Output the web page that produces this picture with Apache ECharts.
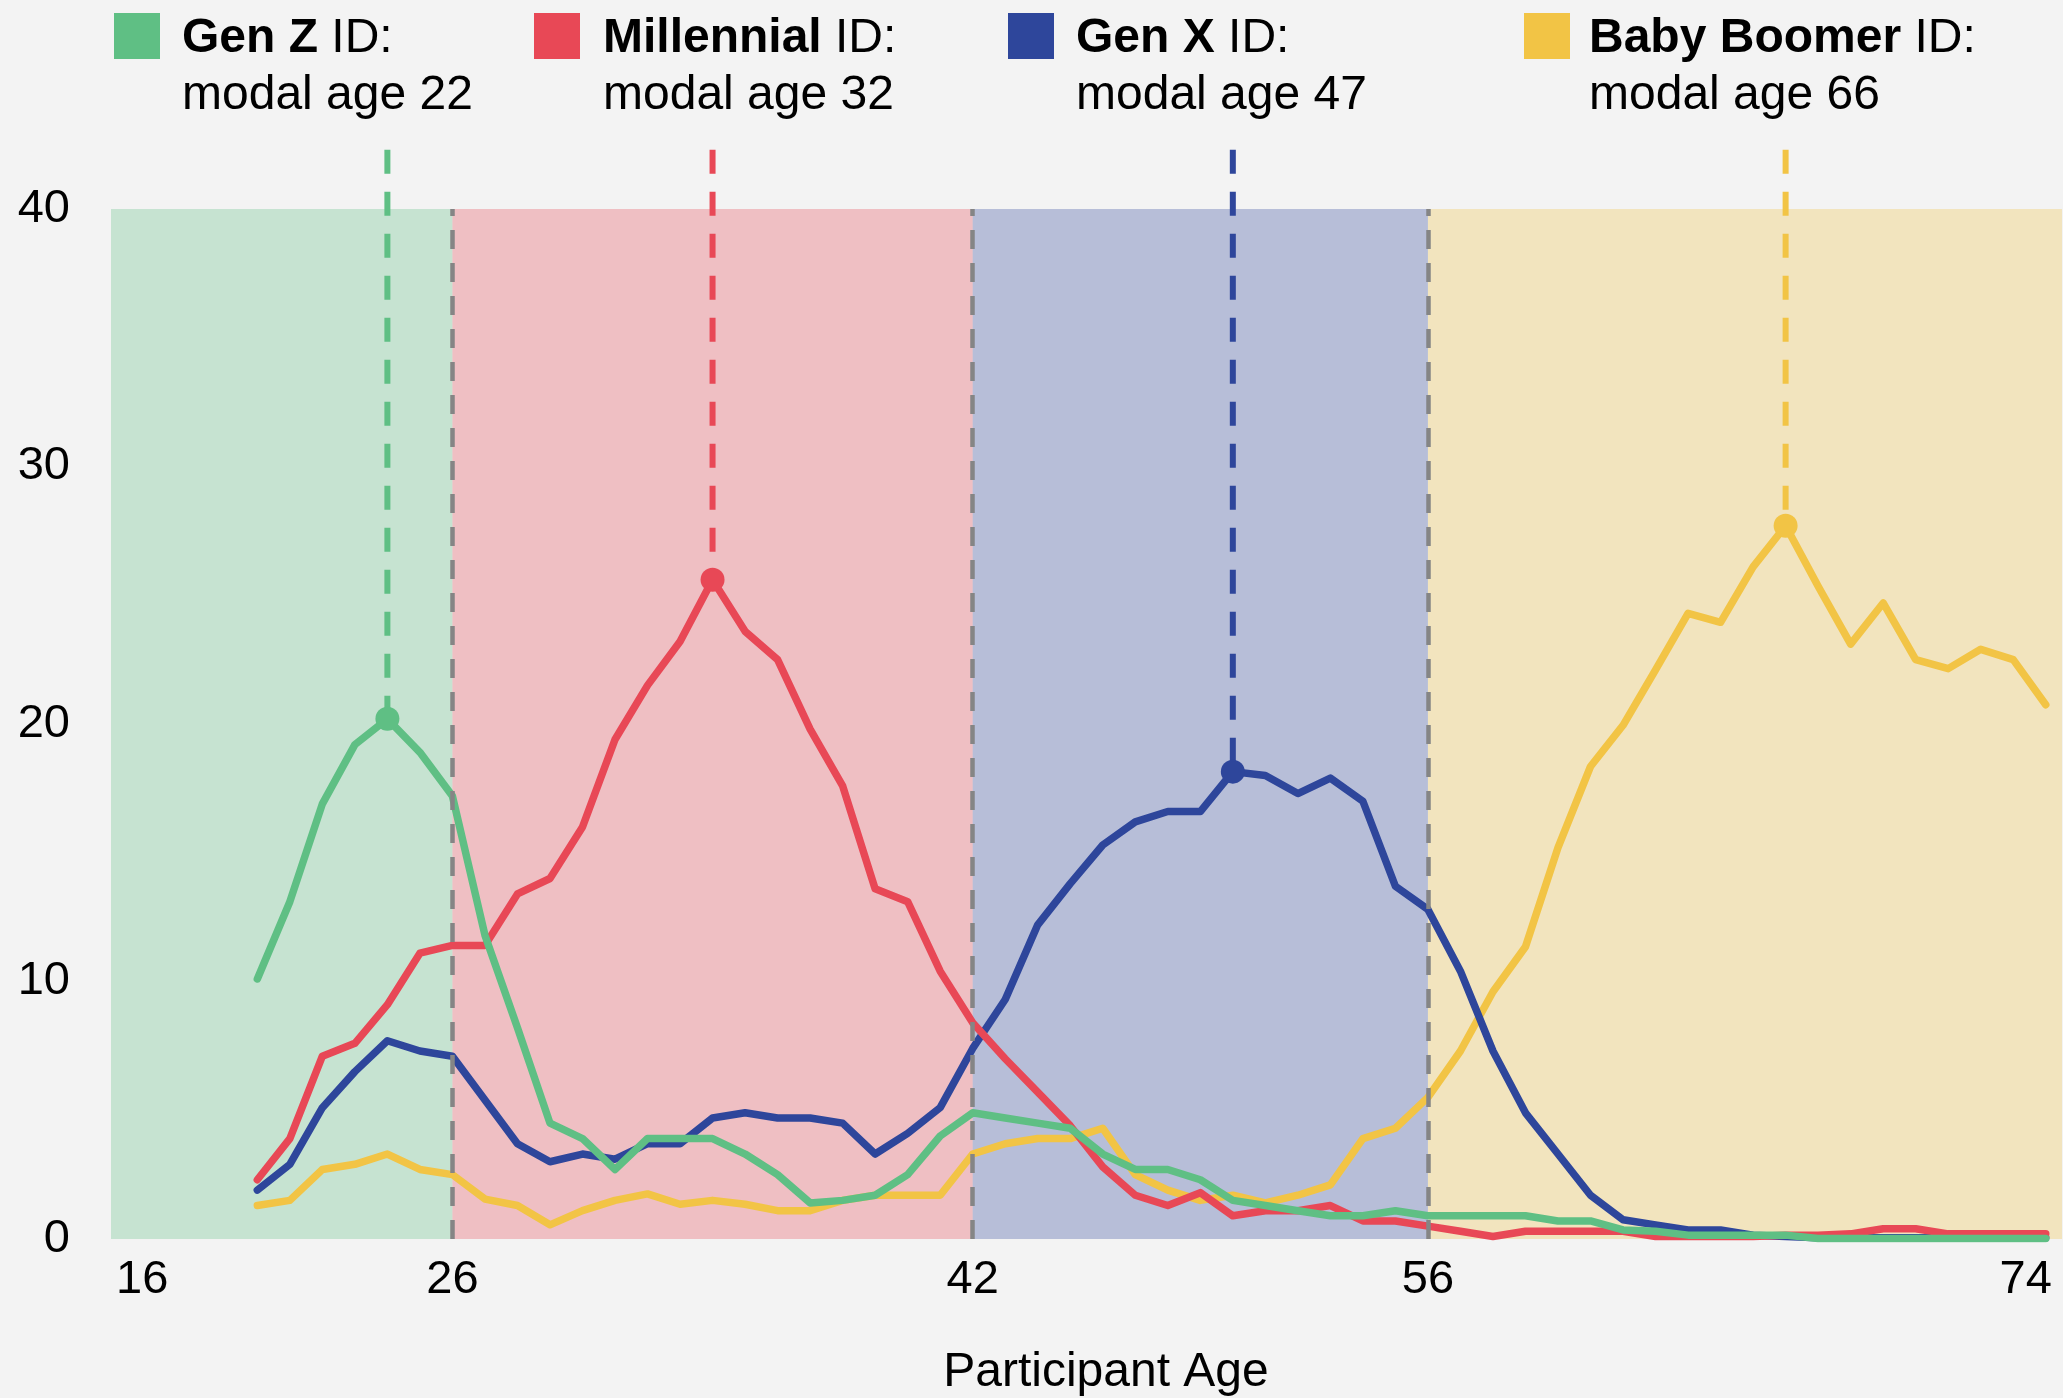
<!DOCTYPE html>
<html>
<head>
<meta charset="utf-8">
<title>Generational ID by participant age</title>
<script src="https://cdn.jsdelivr.net/npm/echarts@6/dist/echarts.min.js"></script>
<style>
    html, body { margin: 0; padding: 0; background: #f3f3f3; }
    #chart { width: 2063px; height: 1398px; }
</style>
</head>
<body>
<div id="chart"></div>
<script>
    // x: participant age, one point per year
    var ages = [20, 21, 22, 23, 24, 25, 26, 27, 28, 29, 30, 31, 32, 33, 34, 35, 36, 37, 38, 39,
                40, 41, 42, 43, 44, 45, 46, 47, 48, 49, 50, 51, 52, 53, 54, 55, 56, 57, 58, 59,
                60, 61, 62, 63, 64, 65, 66, 67, 68, 69, 70, 71, 72, 73, 74, 75];

    // % of participants at each age identifying with the generation
    var genZ = [10.1, 13.1, 16.9, 19.2, 20.2, 18.9, 17.2, 11.8, 8.2, 4.5, 3.9, 2.7, 3.9, 3.9, 3.9, 3.3, 2.5, 1.4, 1.5, 1.7,
                2.5, 4.0, 4.9, 4.7, 4.5, 4.3, 3.3, 2.7, 2.7, 2.3, 1.5, 1.3, 1.1, 0.9, 0.9, 1.1, 0.9, 0.9, 0.9, 0.9,
                0.7, 0.7, 0.35, 0.3, 0.15, 0.15, 0.15, 0.15, 0.02, 0.02, 0.02, 0.02, 0.02, 0.02, 0.02, 0.02];
    var millennial = [2.3, 3.9, 7.1, 7.6, 9.1, 11.1, 11.4, 11.4, 13.4, 14.0, 16.0, 19.4, 21.5, 23.2, 25.6, 23.6, 22.5, 19.8, 17.6, 13.6,
                13.1, 10.4, 8.4, 7.0, 5.7, 4.4, 2.8, 1.7, 1.3, 1.8, 0.9, 1.1, 1.1, 1.3, 0.7, 0.7, 0.5, 0.3, 0.1, 0.3,
                0.3, 0.3, 0.3, 0.1, 0.1, 0.1, 0.1, 0.15, 0.15, 0.2, 0.4, 0.4, 0.2, 0.2, 0.2, 0.2];
    var genX = [1.9, 2.9, 5.1, 6.5, 7.7, 7.3, 7.1, 5.4, 3.7, 3.0, 3.3, 3.1, 3.7, 3.7, 4.7, 4.9, 4.7, 4.7, 4.5, 3.3,
                4.1, 5.1, 7.4, 9.3, 12.2, 13.8, 15.3, 16.2, 16.6, 16.6, 18.15, 18.0, 17.3, 17.9, 17.0, 13.7, 12.8, 10.4, 7.3, 4.9,
                3.3, 1.7, 0.75, 0.55, 0.35, 0.35, 0.15, 0.1, 0.05, 0.05, 0.05, 0.05, 0.05, 0.05, 0.05, 0.05];
    var boomer = [1.3, 1.5, 2.7, 2.9, 3.3, 2.7, 2.5, 1.55, 1.3, 0.55, 1.1, 1.5, 1.75, 1.35, 1.5, 1.35, 1.1, 1.1, 1.5, 1.7,
                1.7, 1.7, 3.3, 3.7, 3.9, 3.9, 4.3, 2.5, 1.9, 1.5, 1.7, 1.4, 1.7, 2.1, 3.9, 4.3, 5.5, 7.3, 9.6, 11.35,
                15.2, 18.35, 19.95, 22.1, 24.3, 23.95, 26.1, 27.7, 25.35, 23.1, 24.7, 22.5, 22.15, 22.9, 22.5, 20.75];

    var genNames = ['Gen Z', 'Millennial', 'Gen X', 'Baby Boomer'];
    var modalLabels = [22, 32, 47, 66];
    var peakAges = [24, 34, 50, 67];        // where the marker dot sits on each line
    var genColors = ['#5fbf84', '#e84856', '#2e469b', '#f2c445'];
    var bandColors = ['rgba(95,191,132,0.3)', 'rgba(232,72,86,0.3)', 'rgba(46,70,155,0.3)', 'rgba(242,196,69,0.3)'];
    var bandEdges = [15.5, 26, 42, 56, 75.5];
    var dividers = [26, 42, 56];
    var xTicks = [16, 26, 42, 56, 74];
    var yTicks = [0, 10, 20, 30, 40];
    var stemTop = 42.3;

    var FONT = "'Liberation Sans', Arial, Helvetica, sans-serif";
    var genData = [genZ, millennial, genX, boomer];

    function pairs(values) {
        var out = [];
        for (var i = 0; i < ages.length; i++) out.push([ages[i], values[i]]);
        return out;
    }

    var series = [];

    // background bands
    var areas = [];
    for (var i = 0; i < 4; i++) {
        areas.push([
            { coord: [bandEdges[i], yTicks[0]], itemStyle: { color: bandColors[i] } },
            { coord: [bandEdges[i + 1], yTicks[yTicks.length - 1]] }
        ]);
    }
    series.push({
        name: 'bands', type: 'line', data: [], z: 0, silent: true,
        markArea: { silent: true, itemStyle: { opacity: 1 }, data: areas }
    });

    // draw order: boomer at the back, gen z on top
    var order = [3, 2, 1, 0];
    order.forEach(function (g) {
        series.push({
            name: genNames[g], type: 'line', data: pairs(genData[g]),
            showSymbol: false, silent: true, z: 2,
            lineStyle: { color: genColors[g], width: 7.5, cap: 'round', join: 'round' }
        });
    });

    // modal-age stems and dots
    for (var g = 0; g < 4; g++) {
        var peak = genData[g][ages.indexOf(peakAges[g])];
        series.push({
            type: 'line', data: [[peakAges[g], stemTop], [peakAges[g], peak]],
            clip: false, showSymbol: false, silent: true, z: 3,
            lineStyle: { color: genColors[g], width: 6, type: [24, 18] }
        });
        series.push({
            type: 'scatter', data: [[peakAges[g], peak]], symbolSize: 24, silent: true, z: 4,
            itemStyle: { color: genColors[g], opacity: 1 }
        });
    }

    // grey dashed dividers between generations
    series.push({
        name: 'dividers', type: 'line', data: [], z: 5, silent: true,
        markLine: {
            silent: true, symbol: 'none', label: { show: false },
            lineStyle: { color: '#858585', width: 4.5, type: [19, 14] },
            data: dividers.map(function (d) {
                return [{ coord: [d, yTicks[0]] }, { coord: [d, yTicks[yTicks.length - 1]] }];
            })
        }
    });

    // legend boxes at the top
    var sqX = [114, 534, 1008, 1524];
    var txtX = [182, 603, 1076, 1589];
    var graphics = [];
    for (var k = 0; k < 4; k++) {
        graphics.push({
            type: 'rect', left: sqX[k], top: 13,
            shape: { width: 46, height: 46 },
            style: { fill: genColors[k] }
        });
        graphics.push({
            type: 'text', left: txtX[k], top: 15,
            style: {
                text: '{b|' + genNames[k] + '}{r| ID:}\n{r|modal age ' + modalLabels[k] + '}',
                rich: {
                    b: { fontFamily: FONT, fontSize: 48, fontWeight: 'bold', lineHeight: 57, fill: '#000' },
                    r: { fontFamily: FONT, fontSize: 48, lineHeight: 57, fill: '#000' }
                },
                fill: '#000', font: '48px ' + FONT
            }
        });
    }

    var myChart = echarts.init(document.getElementById('chart'));
    var option = {
        backgroundColor: '#f3f3f3',
        animation: false,
        textStyle: { fontFamily: FONT },
        grid: { left: 111, right: 1, top: 209, bottom: 159, containLabel: false, outerBoundsMode: 'none' },
        xAxis: {
            type: 'value', min: bandEdges[0], max: bandEdges[bandEdges.length - 1],
            axisLine: { show: false }, axisTick: { show: false }, splitLine: { show: false },
            axisLabel: {
                customValues: xTicks, margin: 18,
                fontSize: 47, color: '#000', fontFamily: FONT,
                formatter: function (v) {
                    if (v === xTicks[0]) return '{s|' + v + '}';
                    if (v === xTicks[xTicks.length - 1]) return '{e|' + v + '}';
                    return '' + v;
                },
                rich: {
                    s: { fontSize: 47, color: '#000', fontFamily: FONT, padding: [0, 0, 0, 30] },
                    e: { fontSize: 47, color: '#000', fontFamily: FONT, padding: [0, 0, 0, 25] }
                }
            },
            name: 'Participant Age', nameLocation: 'middle', nameGap: 110,
            nameTextStyle: { fontSize: 48, color: '#000', fontFamily: FONT, padding: [0, 0, 0, 39] }
        },
        yAxis: {
            type: 'value', min: 0, max: 40, interval: 10,
            axisLine: { show: false }, axisTick: { show: false }, splitLine: { show: false },
            axisLabel: { margin: 41, fontSize: 47, color: '#000', fontFamily: FONT }
        },
        graphic: graphics,
        series: series
    };
    myChart.setOption(option);
</script>
</body>
</html>
